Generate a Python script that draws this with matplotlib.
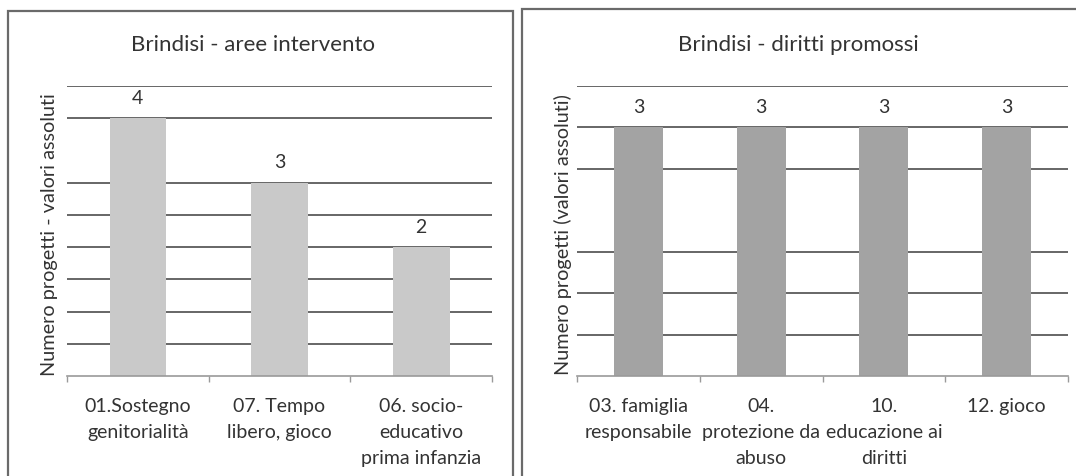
import numpy as np
import matplotlib
matplotlib.use('Agg')
import matplotlib.pyplot as plt
from matplotlib.patches import Rectangle

plt.rcParams['font.family'] = ['Lato', 'DejaVu Sans']

# data
aree_labels = ['01.Sostegno\ngenitorialità', '07. Tempo\nlibero, gioco',
               '06. socio-\neducativo\nprima infanzia']
aree_values = [4, 3, 2]
aree_grid = [0.5, 1, 1.5, 2, 2.5, 3, 4, 4.5]   # 3.5 line not visible in the scan

diritti_labels = ['03. famiglia\nresponsabile', '04.\nprotezione da\nabuso',
                  '10.\neducazione ai\ndiritti', '12. gioco']
diritti_values = [3, 3, 3, 3]
diritti_grid = [0.5, 1, 1.5, 2.5, 3, 3.5]      # 2.0 line not visible in the scan

W, H = 1076, 477
fig = plt.figure(figsize=(W / 100, H / 100), dpi=100)
fig.patch.set_facecolor('white')

txt = '#333333'
grid_col = '#5a5a5a'
fs = 14


def px_box(x0, y0, x1, y1):
    return [x0 / W, 1 - y1 / H, (x1 - x0) / W, (y1 - y0) / H]


def draw_panel(ax, labels, values, grid, ymax, bar_col, title, ylabel, title_x, ylabel_x):
    x = np.arange(len(values))
    ax.bar(x, values, width=0.4, color=bar_col, zorder=2)
    ax.set_xlim(-0.5, len(values) - 0.5)
    ax.set_ylim(0, ymax)
    for yv in grid:
        ax.axhline(yv, color=grid_col, lw=1.3, zorder=1)
    for xi, v in zip(x, values):
        ax.annotate(str(v), (xi, v), xytext=(0, 15), textcoords='offset points',
                    ha='center', va='center', fontsize=fs, color=txt)
    for s in ['top', 'right', 'left']:
        ax.spines[s].set_visible(False)
    ax.spines['bottom'].set_color('#9a9a9a')
    ax.spines['bottom'].set_linewidth(1.2)
    ax.set_yticks([])
    ax.set_xticks(x)
    ax.set_xticklabels(labels, fontsize=fs, color=txt, linespacing=1.65)
    ax.tick_params(axis='x', which='major', length=0, pad=15)
    ax.set_xticks(np.arange(-0.5, len(values), 1.0), minor=True)
    ax.tick_params(axis='x', which='minor', length=4, color='#9a9a9a', width=1)
    fig.text(title_x / W, 1 - 45 / H, title, ha='center', va='center',
             fontsize=16, color=txt)
    fig.text(ylabel_x / W, 1 - 235 / H, ylabel, ha='center', va='center',
             rotation=90, fontsize=14.3, color=txt)


ax1 = fig.add_axes(px_box(67, 86.75, 492, 377))
draw_panel(ax1, aree_labels, aree_values, aree_grid, 4.5, '#c9c9c9',
           'Brindisi - aree intervento', 'Numero progetti - valori assoluti', 253, 50)

ax2 = fig.add_axes(px_box(577, 86.5, 1068, 377))
draw_panel(ax2, diritti_labels, diritti_values, diritti_grid, 3.5, '#a3a3a3',
           'Brindisi - diritti promossi', 'Numero progetti (valori assoluti)', 798, 563)

# chart frames
fig.add_artist(Rectangle((8 / W, -0.05), (513 - 8) / W, 1.05 - 12 / H,
                         transform=fig.transFigure, fill=False,
                         edgecolor='#6a6a6a', lw=1.6))
fig.add_artist(Rectangle((522 / W, -0.05), 0.6, 1.05 - 10 / H,
                         transform=fig.transFigure, fill=False,
                         edgecolor='#6a6a6a', lw=1.6))

fig.savefig('out.png', dpi=100, facecolor='white')
